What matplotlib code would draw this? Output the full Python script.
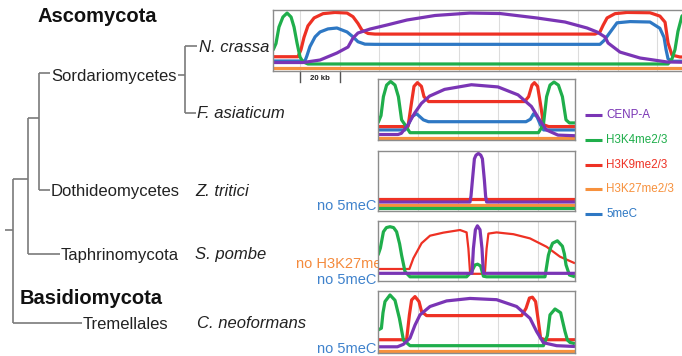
import matplotlib
matplotlib.use('Agg')
import matplotlib.pyplot as plt

plt.rcParams['font.family'] = ['Liberation Sans', 'DejaVu Sans']

FIG_W, FIG_H = 682, 356

MARKS = ['CENP-A', 'H3K4me2/3', 'H3K9me2/3', 'H3K27me2/3', '5meC']
COLORS = {'CENP-A': '#7a35b5', 'H3K4me2/3': '#1fae4b', 'H3K9me2/3': '#ee3124',
          'H3K27me2/3': '#f7913d', '5meC': '#2e78c4'}
DRAW_ORDER = ['H3K27me2/3', '5meC', 'H3K9me2/3', 'H3K4me2/3', 'CENP-A']

SPECIES = ['N. crassa', 'F. asiaticum', 'Z. tritici', 'S. pombe', 'C. neoformans']
CLADES = ['Sordariomycetes', 'Dothideomycetes', 'Taphrinomycota', 'Tremellales']
PHYLA = ['Ascomycota', 'Basidiomycota']

# ------------------------------------------------------------------ #
#  Profiles (x = position, y = relative enrichment 0-100)            #
# ------------------------------------------------------------------ #

# N. crassa, x in kb
NC_CENPA_X = [-13.6, 1.5, 10.1, 18.6, 24.2, 26.7, 29.2, 35.3, 43.8, 53.9, 68.0, 85.6,
              100.8, 119.4, 133.5, 144.6, 149.6, 153.7, 155.2, 161.2, 171.3, 184.9, 201.5]
NC_CENPA_Y = [13.9, 13.9, 18, 29.5, 39.3, 54, 62.3, 68.8, 75.4, 83.6, 91, 95,
              94.2, 86.9, 80.3, 70.5, 64, 55.7, 45.9, 31, 21.3, 14.8, 13.9]
NC_K4_X = [-13.6, -12.1, -10.6, -8.6, -6.5, -4.5, -3.0, -1.5, 0, 1.5, 4.0,
           185.4, 187.4, 188.9, 190.4, 192.4, 195.4]
NC_K4_Y = [34, 45, 72, 88.5, 95, 88.5, 72, 46, 23, 15, 11.5,
           11.5, 20, 35, 65, 90, 98]
NC_K9_X = [-13.6, -1.0, 0.5, 2.0, 4.0, 7.1, 11.6, 17.6, 23.7, 26.7, 29.2, 31.2, 34.3, 37.8,
           148.6, 151.1, 152.7, 154.7, 158.7, 164.7, 176.3, 181.3, 183.9, 185.4, 187.4, 191.4, 201.5]
NC_K9_Y = [23.4, 23.4, 35, 55, 74, 87, 94, 96, 95, 89, 78, 67, 61.5, 60.5,
           60.5, 64, 75, 87, 94, 96, 95.5, 90, 80, 46, 26, 23, 23]
NC_K27_X = [-13.6, 201.5]
NC_K27_Y = [4.4, 4.4]
NC_MEC_X = [-13.6, 2.5, 3.5, 5.0, 7.6, 10.1, 14.1, 18.6, 23.7, 26.7, 29.2, 32.7, 37.8,
            151.1, 153.2, 155.2, 159.7, 166.3, 176.3, 181.3, 183.4, 184.4, 185.4, 187.4, 201.5]
NC_MEC_Y = [16.4, 16.4, 25, 40, 56, 64, 69, 70.5, 64, 56, 48, 44, 43.7,
            43.7, 50, 59, 79, 81, 80.3, 70, 55, 35, 20, 16, 16]

# F. asiaticum, x in panel units
FA_CENPA_X = [0, 10, 11.7, 15, 18.3, 21.7, 25.8, 33.3, 46.7, 60, 70, 76.7, 80.8, 84.2, 90, 98.5]
FA_CENPA_Y = [9, 9, 11, 25, 44, 60, 72, 83, 90.6, 87, 74, 55, 33, 16.5, 8, 7]
FA_K4_X = [0, 1.5, 2.7, 4.3, 6.3, 8.5, 10.2, 11.8, 13.5, 16,
           80.2, 82.7, 84.3, 86, 88, 90.2, 92.2, 94, 95.7, 98.5]
FA_K4_Y = [28, 40, 71, 90, 96, 90, 71, 33, 25, 12,
           12, 25, 71, 90, 95, 90, 71, 33, 28, 28]
FA_K9_X = [0, 15, 16.7, 18, 19.7, 21.7, 23, 25.3, 73.3, 75.3, 77, 78.2, 79.8, 81.2, 82.8, 85.3, 98.5]
FA_K9_Y = [22, 22, 60, 88, 94, 88, 71, 63, 63, 71, 90, 94, 88, 60, 25, 22, 22]
FA_K27_X = [0, 98.5]
FA_K27_Y = [3, 3]
FA_MEC_X = [0, 13.5, 15.2, 16.8, 19.3, 22.7, 25.2, 74, 76.2, 77.8, 79.5, 81.2, 82.8, 98.5]
FA_MEC_Y = [16.5, 16.5, 25, 38, 43, 33, 30, 30, 34, 43, 38, 25, 16.5, 16.5]

# Z. tritici (no 5meC)
ZT_CENPA_X = [0, 46, 46.5, 47.2, 48.2, 49, 50.2, 51.4, 52.2, 53.2, 53.8, 54.3, 98.5]
ZT_CENPA_Y = [15, 15, 25, 51, 87, 93, 96, 93, 87, 51, 25, 15, 15]
ZT_K4_X = [0, 98.5]
ZT_K4_Y = [5, 5]
ZT_K9_X = [0, 98.5]
ZT_K9_Y = [20.6, 20.6]
ZT_K27_X = [0, 98.5]
ZT_K27_Y = [9.5, 9.5]

# S. pombe (no H3K27me, no 5meC)
SP_CENPA_X = [0, 47, 47.3, 47.7, 48.7, 49.7, 51, 52, 52.4, 52.8, 98.5]
SP_CENPA_Y = [12.8, 12.8, 30, 54, 85.5, 92, 85.5, 54, 30, 12.8, 12.8]
SP_K4_X = [0, 1.2, 2.7, 4.2, 6, 7.8, 9.3, 10.8, 11.8, 13.5, 16, 44.3, 46.8, 48.5, 49.8, 51.3,
           52.7, 54.3, 83.5, 85.2, 86.3, 87.3, 89.7, 92.2, 93.2, 94, 95.7, 98.5]
SP_K4_Y = [43, 55, 82, 89, 90.5, 89, 82, 62, 43, 15.6, 7, 7, 15.6, 26.7, 28, 25,
           8, 7, 7, 43, 55, 63, 67, 58, 45, 27, 10, 7]
SP_K9_X = [0, 15.7, 17.7, 21.8, 26, 32.7, 41, 44.3, 45.2, 46, 47.2, 52.5, 53.5, 54.3, 55.2,
           59.3, 67.7, 76, 84.3, 91, 98.5]
SP_K9_Y = [20, 20, 38, 63, 75.5, 80.6, 85, 81, 54, 15.6, 12, 12, 15.6, 54, 79,
           81, 78, 71, 57, 40.5, 29.5]

# C. neoformans (no 5meC)
CN_CENPA_X = [0, 9.7, 12.7, 16, 18.5, 21, 26, 34.3, 46, 59.3, 69.3, 76, 79.3, 82.7, 89.3, 98.5]
CN_CENPA_Y = [10, 10, 14, 24, 45, 61.5, 75, 84, 88, 86, 75, 56, 34.7, 16.6, 11.8, 10.5]
CN_K4_X = [0, 1.7, 2.5, 3.5, 6, 8.5, 10.7, 12.7, 16, 82.7, 84.7, 86, 88.5, 91.3, 93.5, 94.7, 96, 98.5]
CN_K4_Y = [37, 40, 65, 83, 93.6, 85, 56, 21, 11.8, 11.8, 28, 61.5, 71, 65, 34.7, 21, 17, 15]
CN_K9_X = [0, 14.3, 15.7, 16.8, 18.5, 20.5, 21.8, 24.3, 71.8, 74, 75.7, 77.2, 78.8, 80.2, 81.3, 83.5, 98.5]
CN_K9_Y = [21.4, 21.4, 61.5, 85.5, 91, 83, 66.8, 60.3, 60.3, 72, 88.6, 90, 83, 50.7, 24, 21.4, 21.4]
CN_K27_X = [0, 98.5]
CN_K27_Y = [3.7, 3.7]

PROFILES = {
    'N. crassa': {'CENP-A': (NC_CENPA_X, NC_CENPA_Y), 'H3K4me2/3': (NC_K4_X, NC_K4_Y),
                  'H3K9me2/3': (NC_K9_X, NC_K9_Y), 'H3K27me2/3': (NC_K27_X, NC_K27_Y),
                  '5meC': (NC_MEC_X, NC_MEC_Y)},
    'F. asiaticum': {'CENP-A': (FA_CENPA_X, FA_CENPA_Y), 'H3K4me2/3': (FA_K4_X, FA_K4_Y),
                     'H3K9me2/3': (FA_K9_X, FA_K9_Y), 'H3K27me2/3': (FA_K27_X, FA_K27_Y),
                     '5meC': (FA_MEC_X, FA_MEC_Y)},
    'Z. tritici': {'CENP-A': (ZT_CENPA_X, ZT_CENPA_Y), 'H3K4me2/3': (ZT_K4_X, ZT_K4_Y),
                   'H3K9me2/3': (ZT_K9_X, ZT_K9_Y), 'H3K27me2/3': (ZT_K27_X, ZT_K27_Y)},
    'S. pombe': {'CENP-A': (SP_CENPA_X, SP_CENPA_Y), 'H3K4me2/3': (SP_K4_X, SP_K4_Y),
                 'H3K9me2/3': (SP_K9_X, SP_K9_Y)},
    'C. neoformans': {'CENP-A': (CN_CENPA_X, CN_CENPA_Y), 'H3K4me2/3': (CN_K4_X, CN_K4_Y),
                      'H3K9me2/3': (CN_K9_X, CN_K9_Y), 'H3K27me2/3': (CN_K27_X, CN_K27_Y)},
}
MISSING = {'Z. tritici': ['no 5meC'], 'S. pombe': ['no H3K27me', 'no 5meC'],
           'C. neoformans': ['no 5meC']}

# ------------------------------------------------------------------ #
#  Layout (pixels)                                                    #
# ------------------------------------------------------------------ #
# panel boxes: x0, x1, y_top, y_bottom, xlim
PANELS = {
    'N. crassa':     (273, 700, 10, 71, (-13.6, 201.5)),
    'F. asiaticum':  (378, 575, 79, 140, (0, 98.5)),
    'Z. tritici':    (378, 575, 151, 211, (0, 98.5)),
    'S. pombe':      (378, 575, 221, 281, (0, 98.5)),
    'C. neoformans': (378, 575, 291, 353, (0, 98.5)),
}
LEAF_Y = {'N. crassa': 46, 'F. asiaticum': 113, 'Z. tritici': 190,
          'S. pombe': 254, 'C. neoformans': 323}


def px_axes(fig, x0, x1, y0, y1):
    return fig.add_axes([x0 / FIG_W, 1 - y1 / FIG_H, (x1 - x0) / FIG_W, (y1 - y0) / FIG_H])


fig = plt.figure(figsize=(FIG_W / 100, FIG_H / 100), dpi=100)

# background axes in pixel coords for tree + labels
bg = fig.add_axes([0, 0, 1, 1])
bg.set_xlim(0, FIG_W)
bg.set_ylim(FIG_H, 0)
bg.axis('off')

tree_kw = dict(color='#7a7a7a', lw=1.2, solid_capstyle='butt')
# root and internal nodes
bg.plot([5, 13], [230, 230], **tree_kw)
bg.plot([13, 13], [179, 323], **tree_kw)
bg.plot([13, 28], [179, 179], **tree_kw)
bg.plot([28, 28], [118, 254], **tree_kw)
bg.plot([28, 39], [118, 118], **tree_kw)
bg.plot([39, 39], [73, 190], **tree_kw)
# clade branches
bg.plot([39, 50], [73, 73], **tree_kw)
bg.plot([178, 185], [75, 75], **tree_kw)
bg.plot([185, 185], [46, 113], **tree_kw)
bg.plot([185, 197], [46, 46], **tree_kw)
bg.plot([185, 196], [113, 113], **tree_kw)
bg.plot([39, 50], [190, 190], **tree_kw)
bg.plot([28, 60], [254, 254], **tree_kw)
bg.plot([13, 82], [323, 323], **tree_kw)

label_kw = dict(fontsize=12, color='#222222', va='baseline')
for name, x, y in zip(CLADES, [51, 51, 61, 83], [81, 196, 260, 329]):
    bg.text(x, y, name, **label_kw)
for sp, x in zip(SPECIES, [199, 197, 195, 195, 197]):
    bg.text(x, LEAF_Y[sp] + 5.5, sp, style='italic', **label_kw)

bg.text(38, 21.5, PHYLA[0], fontsize=14.5, fontweight='bold', color='#111111', va='baseline')
bg.text(20, 304, PHYLA[1], fontsize=14.5, fontweight='bold', color='#111111', va='baseline')

# "missing mark" notes left of the panels
NOTE_COLORS = {'no 5meC': '#3f82cc', 'no H3K27me': '#f48a3c'}
NOTE_Y = {'Z. tritici': [210.5], 'S. pombe': [268.5, 283.5], 'C. neoformans': [353]}
for sp, notes in MISSING.items():
    for note, y in zip(notes, NOTE_Y[sp]):
        x = 381 if note == 'no H3K27me' else 376
        bg.text(x, y, note, fontsize=10.5, color=NOTE_COLORS[note], ha='right', va='baseline')

# legend
for i, mark in enumerate(MARKS):
    y = 115 + i * 24.8
    bg.plot([585, 602], [y, y], color=COLORS[mark], lw=2.2, solid_capstyle='butt')
    bg.text(606, y, mark, fontsize=8.4, color=COLORS[mark], va='center')

# profile panels
for sp in SPECIES:
    x0, x1, y0, y1, xlim = PANELS[sp]
    ax = px_axes(fig, x0, x1, y0, y1)
    ax.set_xlim(*xlim)
    ax.set_ylim(0, 100)
    ax.set_facecolor('white')
    for gx in range(0, int(xlim[1]) + 1, 20):
        if xlim[0] < gx < xlim[1] and gx > 0 or (sp == 'N. crassa' and gx == 0):
            ax.axvline(gx, color='#dcdcdc', lw=0.8, zorder=0)
    for mark in DRAW_ORDER:
        if mark not in PROFILES[sp]:
            continue
        xs, ys = PROFILES[sp][mark]
        lw = 1.6 if (sp == 'S. pombe' and mark == 'H3K9me2/3') else 2.3
        ax.plot(xs, ys, color=COLORS[mark], lw=lw, solid_joinstyle='round',
                solid_capstyle='butt', zorder=2)
    ax.set_xticks([])
    ax.set_yticks([])
    for s in ax.spines.values():
        s.set_color('#8c8c8c')
        s.set_linewidth(1.0)
    if sp == 'N. crassa':
        # 20 kb scale bar under the first panel
        tr = ax.get_xaxis_transform()
        for kb in (0, 20):
            ax.plot([kb, kb], [-0.02, -0.18], color='#555555', lw=1.0, transform=tr, clip_on=False)
        ax.text(10, -0.13, '20 kb', fontsize=5.6, fontweight='bold', color='#222222',
                ha='center', va='center', transform=tr)

fig.savefig('out.png', dpi=100)
